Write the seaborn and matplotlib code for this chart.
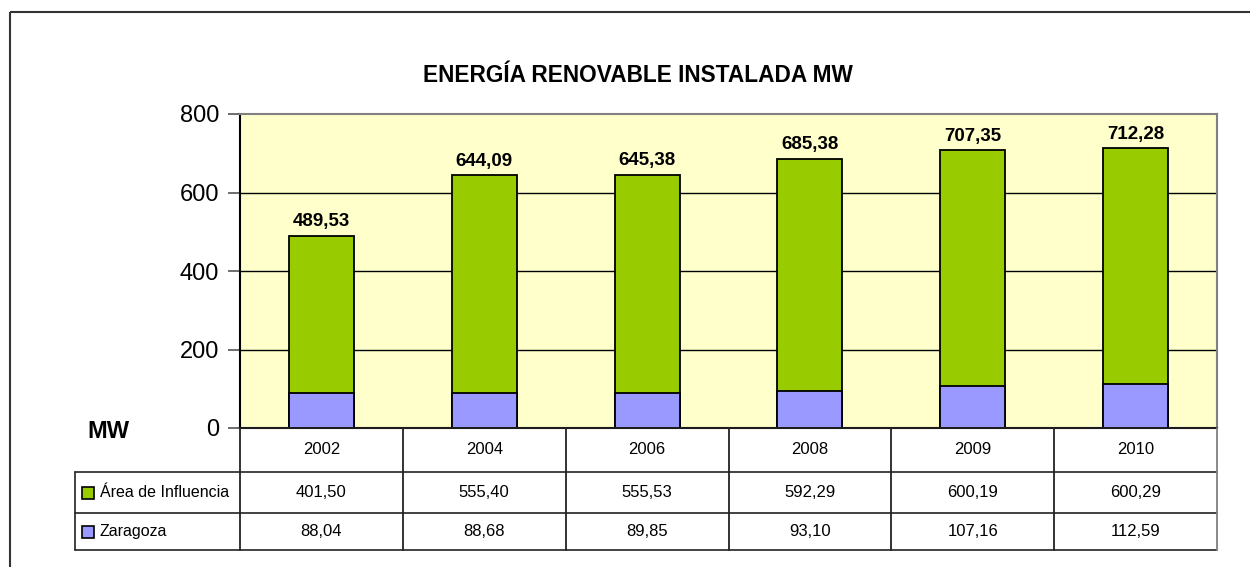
import matplotlib
matplotlib.use("Agg")
import matplotlib.pyplot as plt
import seaborn as sns
import pandas as pd
from matplotlib.patches import Rectangle

years = ["2002", "2004", "2006", "2008", "2009", "2010"]
area_influencia = [401.50, 555.40, 555.53, 592.29, 600.19, 600.29]
zaragoza = [88.04, 88.68, 89.85, 93.10, 107.16, 112.59]
totals = [489.53, 644.09, 645.38, 685.38, 707.35, 712.28]
series_names = ["Área de Influencia", "Zaragoza"]
yticks = [0, 200, 400, 600, 800]
title = "ENERGÍA RENOVABLE INSTALADA MW"

def es(v):
    return f"{v:.2f}".replace(".", ",")

sns.set_theme(style="white")
plt.rcParams['font.family'] = ['Liberation Sans', 'DejaVu Sans']
plt.rcParams['text.color'] = 'black'
plt.rcParams['ytick.labelcolor'] = 'black'
plt.rcParams['axes.labelcolor'] = 'black'

GREEN = "#99CC00"
LAV = "#9999FF"
BG = "#FFFFCC"

W, H = 1250, 567
fig = plt.figure(figsize=(12.5, 5.67), dpi=100)
fig.patch.set_facecolor("white")

L, R, T, B = 240, 1217, 114, 428
ax = fig.add_axes([L / W, 1 - B / H, (R - L) / W, (B - T) / H])
ax.set_facecolor(BG)

df = pd.DataFrame({"year": years, "total": totals, "zar": zaragoza})
sns.barplot(data=df, x="year", y="total", color=GREEN, width=0.4,
            edgecolor="black", linewidth=1.3, saturation=1, ax=ax, zorder=3)
sns.barplot(data=df, x="year", y="zar", color=LAV, width=0.4,
            edgecolor="black", linewidth=1.3, saturation=1, ax=ax, zorder=3)

ax.bar_label(ax.containers[0], labels=[es(v) for v in totals], padding=4,
             fontsize=13.5, fontweight="bold", color="black")

ax.set_ylim(0, 800)
ax.set_xlim(-0.5, len(years) - 0.5)
ax.set_yticks(yticks)
ax.set_yticklabels([str(t) for t in yticks], fontsize=17, color="black")
ax.tick_params(axis="y", length=9, width=1.2, color="#555555", pad=6, left=True)
ax.set_xticks([])
ax.set_xlabel("")
ax.set_ylabel("")
for yv in yticks[1:-1]:
    ax.axhline(yv, color="black", lw=1.0, zorder=1)
ax.spines["left"].set_color("black")
ax.spines["left"].set_linewidth(1.5)
ax.spines["bottom"].set_color("black")
ax.spines["bottom"].set_linewidth(1.5)
ax.spines["top"].set_color("#808080")
ax.spines["top"].set_linewidth(1.5)
ax.spines["right"].set_color("#808080")
ax.spines["right"].set_linewidth(1.5)

# overlay for table, title and frame (pixel coordinates)
ov = fig.add_axes([0, 0, 1, 1], facecolor="none")
ov.set_xlim(0, W)
ov.set_ylim(H, 0)
ov.axis("off")

ov.add_patch(Rectangle((10, 12), 1400, 700, fill=False, edgecolor="#333333",
                       lw=1.5, clip_on=False))
ov.text(638, 75, title, ha="center", va="center", fontsize=16.3,
        fontweight="bold", color="black")
ov.text(108, 431, "MW", ha="center", va="center", fontsize=17,
        fontweight="bold", color="black")

# table geometry
rows_y = [428, 472, 513, 550]
tl = 75
ncol = len(years)
cw = (R - L) / ncol
xs = [L + k * cw for k in range(ncol + 1)]
lc = "#222222"
ov.plot([L, R], [rows_y[0], rows_y[0]], color=lc, lw=1.2)
for yy in rows_y[1:]:
    ov.plot([tl, R], [yy, yy], color=lc, lw=1.2)
for i, xx in enumerate(xs):
    col = "#808080" if i == ncol else lc
    ov.plot([xx, xx], [rows_y[0], rows_y[3]], color=col, lw=1.3)
ov.plot([tl, tl], [rows_y[1], rows_y[3]], color=lc, lw=1.2)

for i, yv in enumerate(years):
    xc = (xs[i] + xs[i + 1]) / 2
    ov.text(xc, (rows_y[0] + rows_y[1]) / 2, yv, ha="center", va="center",
            fontsize=12, color="black")
    ov.text(xc, (rows_y[1] + rows_y[2]) / 2, es(area_influencia[i]),
            ha="center", va="center", fontsize=12, color="black")
    ov.text(xc, (rows_y[2] + rows_y[3]) / 2, es(zaragoza[i]),
            ha="center", va="center", fontsize=12, color="black")

for j, (name, col) in enumerate(zip(series_names, [GREEN, LAV])):
    yc = (rows_y[j + 1] + rows_y[j + 2]) / 2
    ov.add_patch(Rectangle((82, yc - 6), 12, 12, facecolor=col, edgecolor="black", lw=1.2))
    ov.text(100, yc, name, ha="left", va="center", fontsize=11.5, color="black")

fig.savefig("out.png", dpi=100, facecolor="white")
